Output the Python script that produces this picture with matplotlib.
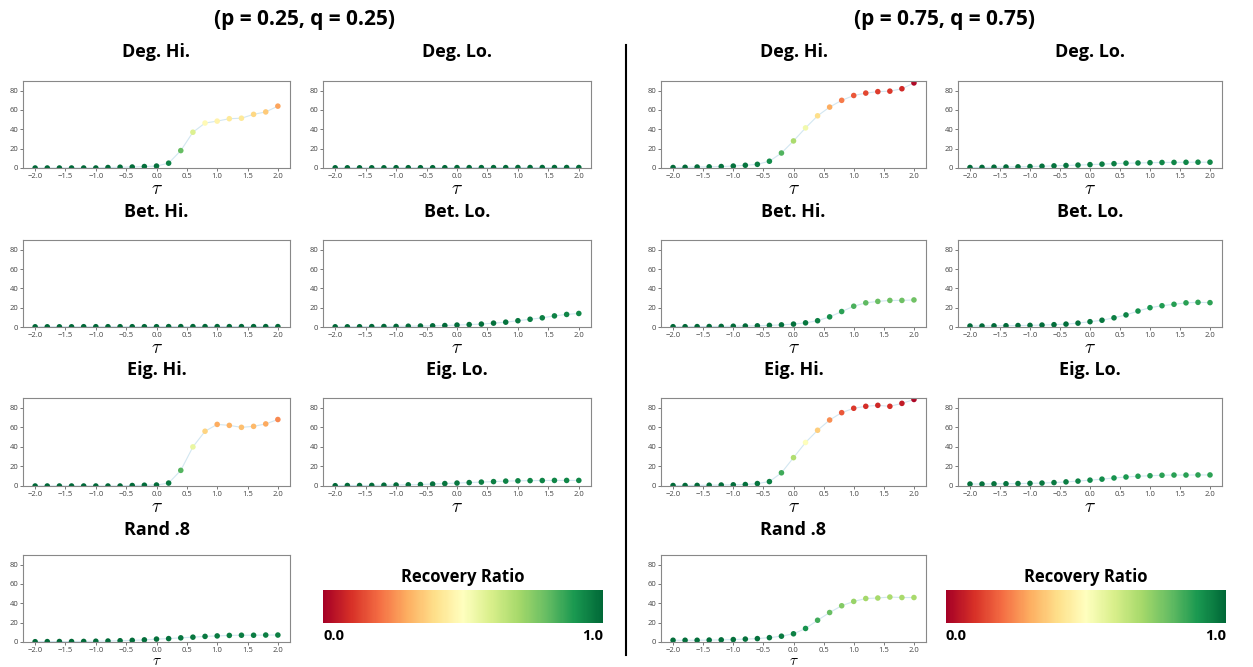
import matplotlib
matplotlib.use("Agg")
import matplotlib.pyplot as plt
import numpy as np
from matplotlib.colors import Normalize
from matplotlib.lines import Line2D
import matplotlib as mpl

plt.rcParams['font.family'] = ['Open Sans', 'DejaVu Sans']
plt.rcParams['mathtext.fontset'] = 'cm'

W, H = 1253, 667

tau = np.round(np.arange(-2.0, 2.01, 0.2), 1)

measures = ["Deg. Hi.", "Deg. Lo.", "Bet. Hi.", "Bet. Lo.", "Eig. Hi.", "Eig. Lo.", "Rand .8"]
# value at which recovery ratio drops to zero, per measure
ratio_cap = [90, 90, 130, 200, 90, 90, 150]

# p = 0.25, q = 0.25
low_deg_hi = [0, 0, 0, 0, 0, 0, 0.5, 0.8, 1, 1.5, 2, 5, 18, 37, 46.5, 48.5, 51, 51.5, 55.5, 58, 64]
low_deg_lo = [0.2, 0.2, 0.2, 0.2, 0.2, 0.3, 0.3, 0.3, 0.3, 0.3, 0.4, 0.4, 0.4, 0.4, 0.4, 0.5, 0.5, 0.5, 0.5, 0.5, 0.5]
low_bet_hi = [0.2, 0.2, 0.2, 0.2, 0.3, 0.3, 0.3, 0.3, 0.3, 0.3, 0.3, 0.4, 0.4, 0.4, 0.4, 0.4, 0.4, 0.4, 0.4, 0.4, 0.4]
low_bet_lo = [0.2, 0.2, 0.3, 0.4, 0.5, 0.6, 0.8, 1, 1.2, 1.5, 2, 2.5, 3, 4, 5, 6.5, 8, 9.5, 11.5, 13, 14]
low_eig_hi = [0, 0, 0, 0, 0, 0, 0, 0, 0.5, 0.8, 1, 3, 16, 40, 56, 63, 62, 60, 61, 63.5, 68]
low_eig_lo = [0.3, 0.5, 0.5, 0.6, 0.8, 1, 1.2, 1.5, 2, 2.5, 3, 3.5, 4, 4.5, 5, 5.3, 5.5, 5.6, 5.7, 5.7, 5.7]
low_rand = [0.3, 0.4, 0.5, 0.5, 0.6, 0.8, 1, 1.3, 1.7, 2.2, 3, 3.5, 4.3, 5, 5.8, 6.3, 6.8, 7, 7, 7.2, 7.2]

# p = 0.75, q = 0.75
high_deg_hi = [0.5, 0.7, 1, 1.2, 1.5, 2, 2.8, 3.8, 7, 15.5, 28, 41.5, 54, 63, 70, 75, 77.5, 79, 79.5, 82, 88]
high_deg_lo = [0.5, 0.6, 0.8, 1, 1.2, 1.5, 1.8, 2.2, 2.6, 3, 3.5, 4, 4.5, 5, 5.2, 5.5, 5.7, 5.8, 5.9, 6, 6]
high_bet_hi = [0.3, 0.3, 0.4, 0.5, 0.6, 0.8, 1, 1.2, 1.7, 2.2, 3, 4.3, 6.5, 10.5, 16, 21.5, 25, 26.5, 27.5, 27.5, 28]
high_bet_lo = [1, 1, 1.2, 1.3, 1.5, 1.7, 2, 2.4, 3, 4, 5.5, 7, 9.5, 12.5, 16.5, 20, 22, 23.5, 25, 25.5, 25.2]
high_eig_hi = [0.5, 0.5, 0.6, 0.8, 1, 1.2, 1.5, 2.5, 4.5, 13.5, 29, 44.5, 57, 67.5, 75, 79.5, 81.5, 82.5, 81.5, 84.5, 88.5]
high_eig_lo = [2, 2, 2.2, 2.3, 2.5, 2.7, 3, 3.5, 4.2, 5, 6, 7, 8.2, 9.2, 10, 10.5, 11, 11.2, 11.2, 11.3, 11.3]
high_rand = [1.8, 1.8, 1.8, 2, 2.2, 2.5, 3, 3.5, 4.5, 6, 8.5, 14, 22.5, 30.5, 37.5, 42, 45, 45.5, 46.5, 46, 46]

panels = [
    ("(p = 0.25, q = 0.25)",
     [low_deg_hi, low_deg_lo, low_bet_hi, low_bet_lo, low_eig_hi, low_eig_lo, low_rand]),
    ("(p = 0.75, q = 0.75)",
     [high_deg_hi, high_deg_lo, high_bet_hi, high_bet_lo, high_eig_hi, high_eig_lo, high_rand]),
]

cmap = plt.get_cmap('RdYlGn')
norm = Normalize(0, 1)

fig = plt.figure(figsize=(W / 100, H / 100), dpi=100)


def px_axes(x0, y0, x1, y1):
    # pixel box (top-left origin) -> figure axes
    return fig.add_axes([x0 / W, 1 - y1 / H, (x1 - x0) / W, (y1 - y0) / H])


def fig_text(x, y, s, **kw):
    fig.text(x / W, 1 - y / H, s, **kw)


col_x = [[(23, 290), (323, 591)], [(661, 926), (958, 1222)]]
row_y = [(81, 168), (240, 327), (398, 486), (555, 642)]
title_y = [52, 212, 370, 530]
panel_center = [305, 945]

for p, (ptitle, series) in enumerate(panels):
    fig_text(panel_center[p], 20, ptitle, ha='center', va='center',
             fontsize=15, fontweight='bold')
    for k, (name, vals) in enumerate(zip(measures, series)):
        r, c = divmod(k, 2)
        x0, x1 = col_x[p][c]
        y0, y1 = row_y[r]
        ax = px_axes(x0, y0, x1, y1)
        vals = np.array(vals)
        ratio = np.clip(1 - vals / ratio_cap[k], 0, 1)
        ax.plot(tau, vals, color='#a6cee3', lw=0.8, alpha=0.5, zorder=1)
        ax.scatter(tau, vals, c=ratio, cmap=cmap, norm=norm, s=16,
                   edgecolors='none', zorder=2)
        ax.set_xlim(-2.2, 2.2)
        ax.set_ylim(0, 90)
        ax.set_xticks(np.arange(-2.0, 2.01, 0.5))
        ax.set_yticks([0, 20, 40, 60, 80])
        ax.tick_params(labelsize=5.5, length=2, width=0.5, pad=1.5,
                       colors='#444444')
        for sp in ax.spines.values():
            sp.set_color('#888888')
            sp.set_linewidth(0.8)
        if r == 3:
            # bottom row sits right at the figure edge
            ax.set_xlabel(r'$\tau$', fontsize=11, labelpad=0)
        else:
            ax.set_xlabel(r'$\tau$', fontsize=14, labelpad=0)
        fig_text((x0 + x1) / 2, title_y[r], name, ha='center', va='center',
                 fontsize=13, fontweight='bold')

    # colour bar in the empty slot
    cx0 = [323, 946][p]
    cx1 = cx0 + 280
    cax = px_axes(cx0, 590, cx1, 623)
    cb = mpl.colorbar.ColorbarBase(cax, cmap=cmap, norm=norm, orientation='horizontal')
    cb.set_ticks([])
    cb.outline.set_visible(False)
    fig_text((cx0 + cx1) / 2, 577, "Recovery Ratio", ha='center', va='center',
             fontsize=12, fontweight='bold')
    fig_text(cx0, 636, "0.0", ha='left', va='center', fontsize=10.5, fontweight='bold')
    fig_text(cx1, 636, "1.0", ha='right', va='center', fontsize=10.5, fontweight='bold')

fig.add_artist(Line2D([626 / W, 626 / W], [1 - 45 / H, 1 - 655 / H],
                      color='black', lw=1.5))

fig.savefig('out.png', dpi=100, facecolor='white')
